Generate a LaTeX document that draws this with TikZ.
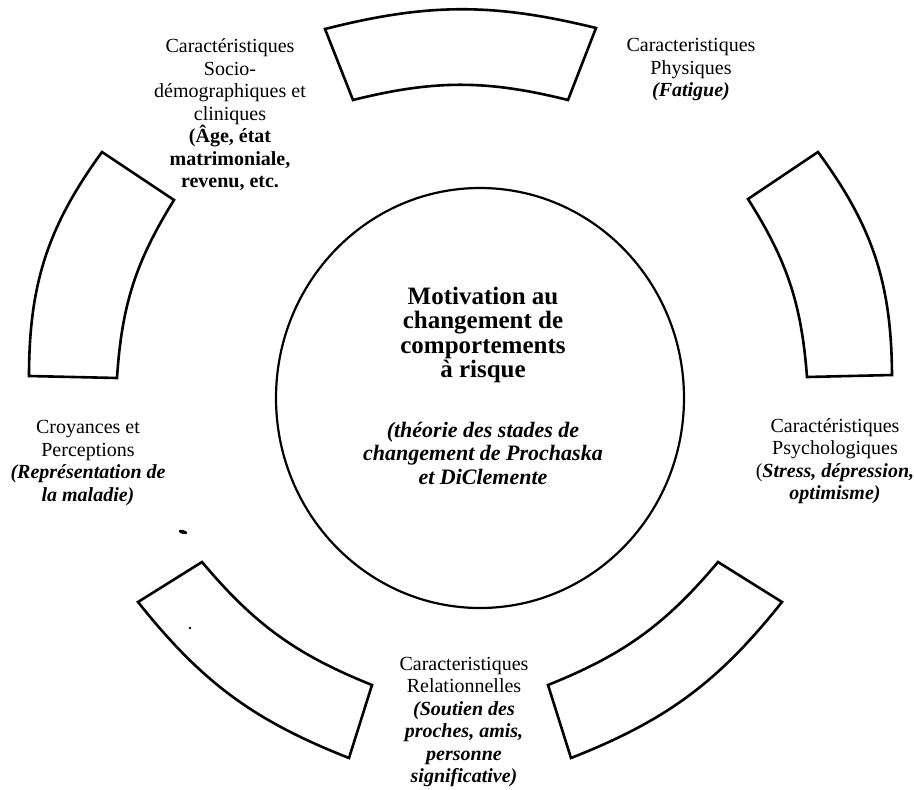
\documentclass[tikz,border=0pt]{standalone}
\usepackage{fontspec}
\usetikzlibrary{shapes.geometric}
\setmainfont{Liberation Serif}
\begin{document}
\begin{tikzpicture}[x=1pt,y=-1pt,
  seg/.style={draw, line width=2.6pt, line join=miter},
  lbl/.style={align=center, font=\fontsize{20}{22.5}\selectfont, inner sep=0pt},
  big/.style={align=center, font=\fontsize{25}{24.5}\selectfont\bfseries, inner sep=0pt},
  theo/.style={align=center, font=\fontsize{22}{23.5}\selectfont\bfseries\itshape, inner sep=0pt}]
\useasboundingbox (0,0) rectangle (914,790);
% central circle
\node[draw, ellipse, line width=2.2pt, minimum width=408pt, minimum height=420pt, inner sep=0pt] (circ) at (480,398) {};
% ring segments
\draw[seg] (325,29) to[bend left=14] (596,28) -- (568,100) to[bend right=14] (353,100) -- cycle;
\draw[seg] (102,152) to[bend right=18] (29,376) -- (117,378) to[bend left=14] (174,200) -- cycle;
\draw[seg] (818,152) to[bend left=18] (892,375) -- (807,377) to[bend right=14] (748,199) -- cycle;
\draw[seg] (138,602) to[bend right=15] (349,758) -- (372,685) to[bend left=14] (202,562) -- cycle;
\draw[seg] (782,602) to[bend left=15] (571,758) -- (548,685) to[bend right=14] (718,562) -- cycle;
% scan marks
\fill[rotate around={-15:(183,532)}] (183,532) ellipse (4.5pt and 2pt);
\fill (190,628) circle (1.3pt);
% labels
\node[lbl] (tl) at (230,115) {Caractéristiques\\Socio-\\démographiques et\\cliniques\\\textbf{(Âge, état}\\\textbf{matrimoniale,}\\\textbf{revenu, etc.}};
\node[lbl] (tr) at (691,70) {Caracteristiques\\Physiques\\\textbf{\textit{(Fatigue)}}};
\node[lbl] (ps) at (835,461) {Caractéristiques\\Psychologiques\\(\textbf{\textit{Stress, dépression,}}\\\textbf{\textit{optimisme)}}};
\node[lbl] (cr) at (88,463) {Croyances et\\Perceptions\\\textbf{\textit{(Représentation de}}\\\textbf{\textit{la maladie)}}};
\node[lbl] (bo) at (464,722) {Caracteristiques\\Relationnelles\\\textbf{\textit{(Soutien des}}\\\textbf{\textit{proches, amis,}}\\\textbf{\textit{personne}}\\\textbf{\textit{significative)}}};
\node[big] (mot) at (483,335) {Motivation au\\changement de\\comportements\\à risque};
\node[theo] (th) at (483,453) {(théorie des stades de\\changement de Prochaska\\et DiClemente};
\end{tikzpicture}
\end{document}
